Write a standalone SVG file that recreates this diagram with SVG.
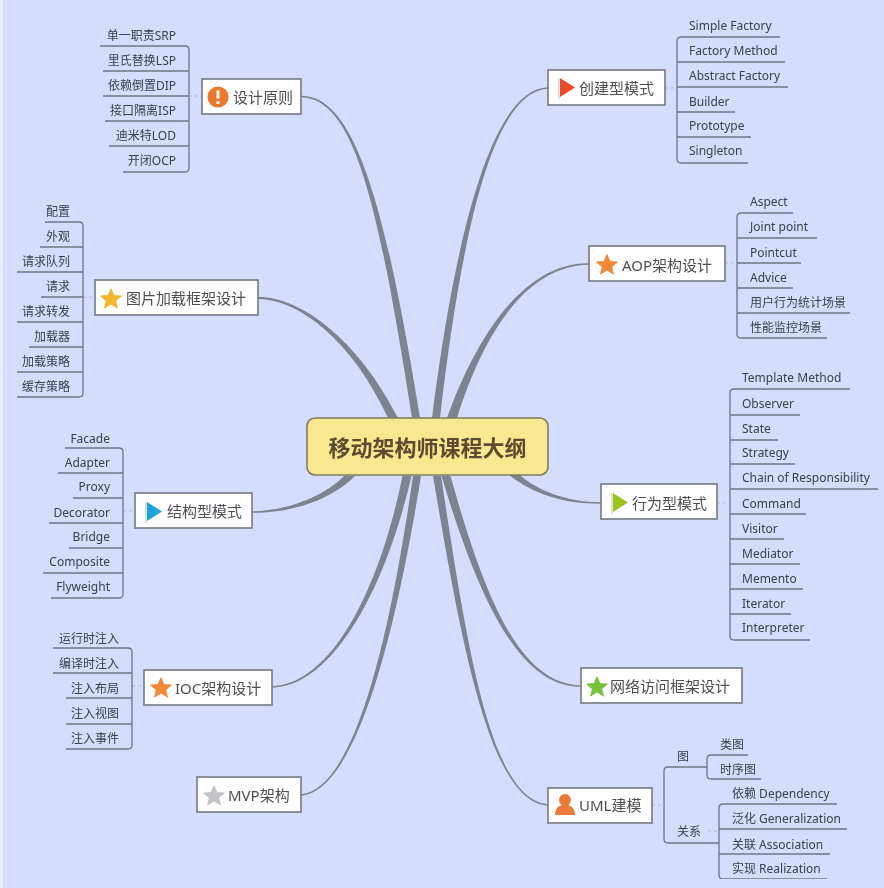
<svg xmlns="http://www.w3.org/2000/svg" width="884" height="888" viewBox="0 0 884 888">
<style>
text{font-family:"Noto Sans","Noto Sans CJK SC","Liberation Sans",sans-serif;dominant-baseline:central}
.leaf{font-size:12px;fill:#36424f}
.l{text-anchor:start}.r{text-anchor:end}
.label{font-size:15px;fill:#4d4f53}
.box{fill:#fff;stroke:#737a82;stroke-width:1.6}
.branch{fill:#7c848f}
.sub{fill:none;stroke:#6d7786;stroke-width:1.3}
.stub{fill:none;stroke:#b4bbca;stroke-width:1;stroke-dasharray:3 3}
</style>
<defs>
<filter id="soft" x="0" y="0" width="100%" height="100%"><feGaussianBlur stdDeviation="0.4"/></filter>
<polygon id="star" points="0,-10 2.8,-3.3 10,-2.9 4.4,1.7 6.3,8.8 0,4.8 -6.3,8.8 -4.4,1.7 -10,-2.9 -2.8,-3.3" stroke-width="1.2" stroke-linejoin="round"/>
<g id="flag"><rect x="0" y="0" width="1.6" height="21" fill="#d7dadd"/><polygon points="2,0 17,9.500 2,19"/></g>
</defs>
<rect width="884" height="888" fill="#d4ddfb"/>
<rect width="3" height="888" fill="#e6ebfb"/>
<g filter="url(#soft)">
<g id="connectors">
<path class="branch" d="M301,95.800 C355,95.500 385.500,205 420,418 L412,418 C378.500,205 355,98.500 301,97.200 Z"/>
<path class="branch" d="M258,297 C300,296.500 357.600,338.700 398,418 L388,418 C352.400,341.300 300,299.500 258,299 Z"/>
<path class="branch" d="M548,87.300 C495,88.500 457,220 432,418 L440,418 C463,220 495,91.500 548,88.700 Z"/>
<path class="branch" d="M589,263.300 C525,262.500 477.200,334 447,418 L457,418 C482.800,336 525,265.500 589,264.700 Z"/>
<path class="branch" d="M601,502.300 C565,502 536,489.500 520,475 L509,475 C534,494.500 565,504 601,503.700 Z"/>
<path class="branch" d="M252,511.300 C285,511 323,497.500 344,476 L355,476 C328,503 285,513.500 252,512.700 Z"/>
<path class="branch" d="M272,686.300 C332,683.500 379.500,589 402.500,476 L411.500,476 C385,591 332,686.500 272,687.700 Z"/>
<path class="branch" d="M301,794.300 C355,788.500 389.500,639 413,476 L421,476 C394.500,641 355,791.500 301,795.700 Z"/>
<path class="branch" d="M548,804.300 C490,798.500 467.500,650 441,476 L433,476 C462.500,650 490,801.500 548,805.700 Z"/>
<path class="branch" d="M581,685.300 C520,684.500 485,599 450.500,476 L441.500,476 C479,601 520,687.500 581,686.700 Z"/>
<path class="stub" d="M189,96H202M665,88H677M83,297H95M123,511H135M132,686H144M725,263H737M717,503H730M652,805H664M708,831H719"/>
<path class="sub" d="M100,46H185Q189,46 189,50V168Q189,172 185,172H123M103,71H189M103,96H189M105,121H189M109,146H189"/>
<path class="sub" d="M780,37H681Q677,37 677,41V159Q677,163 681,163H748M677,62H785M677,87H788M677,112H735M677,137H751"/>
<path class="sub" d="M45,222H79Q83,222 83,226V393Q83,397 79,397H17M40,247H83M17,272H83M41,297H83M17,322H83M29,347H83M17,372H83"/>
<path class="sub" d="M65,448H119Q123,448 123,452V594Q123,598 119,598H51M58,473H123M73,498H123M49,523H123M69,548H123M43,573H123"/>
<path class="sub" d="M53,648H128Q132,648 132,652V745Q132,749 128,749H66M53,673H132M66,698H132M66,724H132"/>
<path class="sub" d="M793,213H741Q737,213 737,217V334Q737,338 741,338H827M737,238H817M737,263H801M737,288H793M737,313H850"/>
<path class="sub" d="M850,389H734Q730,389 730,393V636Q730,640 734,640H810M730,415H800M730,440H778M730,464H795M730,489H878M730,514H806M730,539H784M730,564H800M730,589H803M730,614H791"/>
<path class="sub" d="M707,767H668Q664,767 664,771V839Q664,843 668,843H719"/>
<path class="sub" d="M748,755H711Q707,755 707,759V775Q707,779 711,779H761"/>
<path class="sub" d="M837,804H723Q719,804 719,808V875Q719,879 723,879H827M719,829H847M719,854H830"/>
</g>

<g id="center"><rect x="307" y="418" width="241" height="57" rx="8" fill="#f8e88f" stroke="#827a5e" stroke-width="1.6"/><text x="427.500" y="447" text-anchor="middle" font-size="22" font-weight="700" fill="#5b4c30">移动架构师课程大纲</text></g>

<g id="n-principle"><rect class="box" x="202" y="79" width="99" height="35"/><circle cx="218" cy="97" r="10.500" fill="#f0762c"/><rect x="216.500" y="90" width="3" height="9" rx="1.500" fill="#fff"/><circle cx="218" cy="102.500" r="1.800" fill="#fff"/><text class="label" x="233" y="97">设计原则</text></g>
<g id="n-creational"><rect class="box" x="548" y="70" width="117" height="35"/><use href="#flag" x="558" y="78" fill="#ef4a2a"/><text class="label" x="579" y="88">创建型模式</text></g>
<g id="n-image"><rect class="box" x="95" y="280" width="163" height="35"/><use href="#star" x="111" y="299" fill="#f3b52a" stroke="#f3b52a"/><text class="label" x="126" y="298">图片加载框架设计</text></g>
<g id="n-aop"><rect class="box" x="589" y="246" width="136" height="35"/><use href="#star" x="607" y="265" fill="#f58634" stroke="#f58634"/><text class="label" x="622" y="265">AOP架构设计</text></g>
<g id="n-structural"><rect class="box" x="135" y="493" width="117" height="35"/><use href="#flag" x="145" y="502" fill="#1fa3dc"/><text class="label" x="167" y="511">结构型模式</text></g>
<g id="n-behavioral"><rect class="box" x="601" y="484" width="116" height="35"/><use href="#flag" x="611" y="493" fill="#9bc41b"/><text class="label" x="632" y="503">行为型模式</text></g>
<g id="n-ioc"><rect class="box" x="144" y="670" width="128" height="35"/><use href="#star" x="161" y="688" fill="#f58634" stroke="#f58634"/><text class="label" x="175" y="688">IOC架构设计</text></g>
<g id="n-mvp"><rect class="box" x="197" y="777" width="104" height="35"/><use href="#star" x="214" y="796" fill="#c2c3c6" stroke="#c2c3c6"/><text class="label" x="228" y="795">MVP架构</text></g>
<g id="n-network"><rect class="box" x="581" y="668" width="161" height="35"/><use href="#star" x="597" y="687" fill="#79c13a" stroke="#79c13a"/><text class="label" x="610" y="686">网络访问框架设计</text></g>
<g id="n-uml"><rect class="box" x="548" y="788" width="104" height="35"/><g id="person" fill="#ee7a37"><circle cx="565" cy="800" r="6"/><path d="M555,815C555,808 559,806 562,805H568C571,806 575,808 575,815Z"/></g><text class="label" x="579" y="805">UML建模</text></g>

<g id="leaves-principle">
<g id="p1"><text class="leaf r" x="176" y="35">单一职责SRP</text></g>
<g id="p2"><text class="leaf r" x="176" y="60">里氏替换LSP</text></g>
<g id="p3"><text class="leaf r" x="176" y="85">依赖倒置DIP</text></g>
<g id="p4"><text class="leaf r" x="176" y="110">接口隔离ISP</text></g>
<g id="p5"><text class="leaf r" x="176" y="135">迪米特LOD</text></g>
<g id="p6"><text class="leaf r" x="176" y="160">开闭OCP</text></g>
</g>
<g id="leaves-creational">
<g id="c1"><text class="leaf l" x="689" y="25">Simple Factory</text></g>
<g id="c2"><text class="leaf l" x="689" y="50">Factory Method</text></g>
<g id="c3"><text class="leaf l" x="689" y="75">Abstract Factory</text></g>
<g id="c4"><text class="leaf l" x="689" y="101">Builder</text></g>
<g id="c5"><text class="leaf l" x="689" y="125">Prototype</text></g>
<g id="c6"><text class="leaf l" x="689" y="150">Singleton</text></g>
</g>
<g id="leaves-image">
<g id="i1"><text class="leaf r" x="70" y="211">配置</text></g>
<g id="i2"><text class="leaf r" x="70" y="236">外观</text></g>
<g id="i3"><text class="leaf r" x="70" y="261">请求队列</text></g>
<g id="i4"><text class="leaf r" x="70" y="286">请求</text></g>
<g id="i5"><text class="leaf r" x="70" y="311">请求转发</text></g>
<g id="i6"><text class="leaf r" x="70" y="336">加载器</text></g>
<g id="i7"><text class="leaf r" x="70" y="361">加载策略</text></g>
<g id="i8"><text class="leaf r" x="70" y="386">缓存策略</text></g>
</g>
<g id="leaves-structural">
<g id="s1"><text class="leaf r" x="110" y="438">Facade</text></g>
<g id="s2"><text class="leaf r" x="110" y="462">Adapter</text></g>
<g id="s3"><text class="leaf r" x="110" y="486">Proxy</text></g>
<g id="s4"><text class="leaf r" x="110" y="512">Decorator</text></g>
<g id="s5"><text class="leaf r" x="110" y="536">Bridge</text></g>
<g id="s6"><text class="leaf r" x="110" y="561">Composite</text></g>
<g id="s7"><text class="leaf r" x="110" y="586">Flyweight</text></g>
</g>
<g id="leaves-ioc">
<g id="o1"><text class="leaf r" x="119" y="638">运行时注入</text></g>
<g id="o2"><text class="leaf r" x="119" y="663">编译时注入</text></g>
<g id="o3"><text class="leaf r" x="119" y="688">注入布局</text></g>
<g id="o4"><text class="leaf r" x="119" y="713">注入视图</text></g>
<g id="o5"><text class="leaf r" x="119" y="738">注入事件</text></g>
</g>
<g id="leaves-aop">
<g id="a1"><text class="leaf l" x="750" y="201">Aspect</text></g>
<g id="a2"><text class="leaf l" x="750" y="226">Joint point</text></g>
<g id="a3"><text class="leaf l" x="750" y="252">Pointcut</text></g>
<g id="a4"><text class="leaf l" x="750" y="277">Advice</text></g>
<g id="a5"><text class="leaf l" x="750" y="302">用户行为统计场景</text></g>
<g id="a6"><text class="leaf l" x="750" y="327">性能监控场景</text></g>
</g>
<g id="leaves-behavioral">
<g id="b1"><text class="leaf l" x="742" y="377">Template Method</text></g>
<g id="b2"><text class="leaf l" x="742" y="403">Observer</text></g>
<g id="b3"><text class="leaf l" x="742" y="428">State</text></g>
<g id="b4"><text class="leaf l" x="742" y="452">Strategy</text></g>
<g id="b5"><text class="leaf l" x="742" y="477">Chain of Responsibility</text></g>
<g id="b6"><text class="leaf l" x="742" y="503">Command</text></g>
<g id="b7"><text class="leaf l" x="742" y="528">Visitor</text></g>
<g id="b8"><text class="leaf l" x="742" y="553">Mediator</text></g>
<g id="b9"><text class="leaf l" x="742" y="578">Memento</text></g>
<g id="b10"><text class="leaf l" x="742" y="603">Iterator</text></g>
<g id="b11"><text class="leaf l" x="742" y="627">Interpreter</text></g>
</g>
<g id="leaves-uml">
<g id="u1"><text class="leaf l" x="677" y="756">图</text></g>
<g id="u2"><text class="leaf l" x="677" y="831">关系</text></g>
<g id="u3"><text class="leaf l" x="720" y="744">类图</text></g>
<g id="u4"><text class="leaf l" x="720" y="769">时序图</text></g>
<g id="u5"><text class="leaf l" x="732" y="793">依赖 Dependency</text></g>
<g id="u6"><text class="leaf l" x="732" y="818">泛化 Generalization</text></g>
<g id="u7"><text class="leaf l" x="732" y="844">关联 Association</text></g>
<g id="u8"><text class="leaf l" x="732" y="868">实现 Realization</text></g>
</g>
</g>
</svg>
